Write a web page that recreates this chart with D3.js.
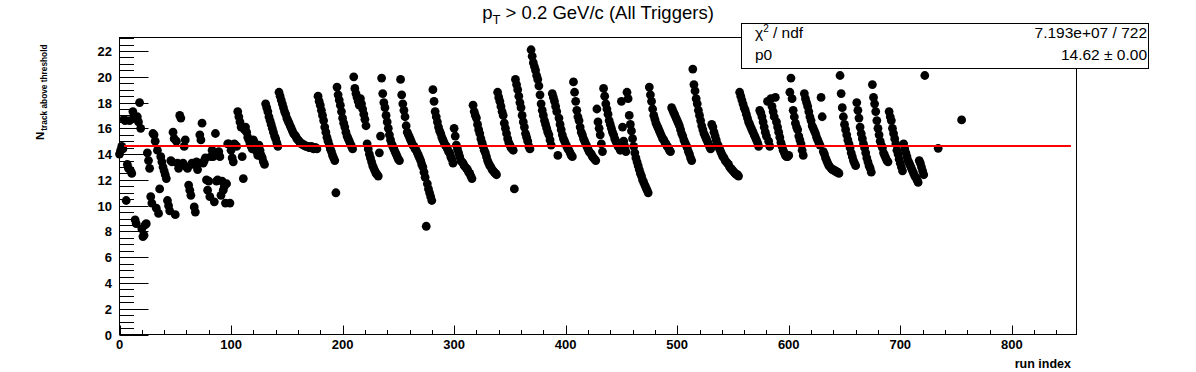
<!DOCTYPE html>
<html>
<head>
<meta charset="utf-8">
<script src="https://cdn.jsdelivr.net/npm/d3@7"></script>
<style>
  html, body { margin: 0; padding: 0; background: #fff; }
  svg { display: block; font-family: "Liberation Sans", Arial, Helvetica, sans-serif; }
</style>
</head>
<body>
<svg id="chart" width="1196" height="372"></svg>
<script>
// ---- data ----
const nTrack = [
  14.0, 14.3, 14.6, 14.4, 16.7, 16.6, 10.4, 13.2, 12.9, 16.6,
  12.7, 12.5, 17.3, 16.8, 8.9, 8.6, 16.9, 16.5, 18.0, 16.0,
  8.2, 7.6, 7.7, 8.5, 8.6, 14.1, 13.5, 12.9, 10.7, 10.2,
  15.6, 15.5, 15.0, 9.8, 14.3, 9.4, 11.3, 13.8, 13.4, 13.0,
  12.7, 12.4, 12.1, 10.4, 10.0, 9.6, 13.5, 13.4, 15.7, 15.2,
  9.3, 15.0, 13.3, 12.9, 17.0, 16.8, 13.2, 13.3, 14.6, 15.1,
  13.0, 12.9, 11.6, 11.2, 10.8, 13.3, 13.2, 9.9, 9.5, 13.4,
  12.8, 13.3, 15.5, 15.1, 16.4, 13.3, 13.5, 13.7, 12.0, 11.2,
  11.9, 10.7, 13.8, 14.3, 13.8, 10.3, 15.6, 11.9, 12.0, 14.2,
  13.8, 10.8, 11.9, 11.2, 11.5, 10.2, 11.7, 14.8, 14.8, 10.2,
  14.3, 13.7, 13.4, 14.8, 14.7, 14.6, 17.3, 16.9, 16.5, 16.1,
  13.8, 12.1, 15.9, 16.1, 15.7, 15.3, 15.1, 14.8, 14.6, 14.4,
  15.1, 14.9, 14.5, 14.2, 13.9, 14.7, 14.3, 13.9, 13.7, 13.4,
  13.2, 17.9, 17.6, 17.3, 16.9, 16.6, 16.3, 16.0, 15.7, 15.4,
  15.2, 14.9, 14.6, 18.8, 18.5, 18.2, 17.9, 17.6, 17.3, 17.1,
  16.8, 16.6, 16.4, 16.2, 16.0, 15.8, 15.6, 15.5, 15.4, 15.2,
  15.1, 15.0, 14.9, 14.8, 14.8, 14.7, 14.7, 14.6, 14.6, 14.6,
  14.5, 14.5, 14.6, 14.5, 14.4, 14.5, 14.5, 14.4, 18.5, 18.1,
  17.8, 17.4, 17.0, 16.6, 16.1, 15.7, 15.3, 15.0, 14.7, 14.4,
  14.2, 13.9, 13.7, 13.5, 11.0, 19.2, 18.6, 18.2, 17.8, 17.3,
  16.8, 16.4, 16.1, 15.7, 15.4, 15.2, 15.0, 14.8, 14.6, 14.4,
  20.0, 19.1, 18.7, 18.4, 18.1, 17.8, 18.3, 17.9, 17.5, 17.1,
  16.7, 16.2, 14.8, 14.4, 14.0, 13.7, 13.4, 13.1, 12.9, 12.7,
  12.5, 12.4, 12.3, 14.1, 15.4, 19.9, 18.7, 18.0, 17.6, 17.0,
  16.5, 16.0, 15.5, 15.1, 14.8, 14.6, 14.4, 14.2, 14.0, 13.8,
  13.6, 13.5, 19.8, 18.6, 17.9, 17.4, 16.9, 16.2, 15.7, 15.5,
  15.3, 15.1, 14.9, 14.7, 14.6, 14.4, 14.3, 14.1, 13.9, 13.7,
  13.5, 13.2, 13.0, 12.6, 12.2, 8.4, 11.7, 11.3, 11.0, 10.7,
  10.4, 19.0, 18.1, 17.3, 16.9, 16.5, 16.1, 15.8, 15.6, 15.3,
  15.1, 14.9, 14.7, 14.6, 14.4, 14.2, 14.1, 13.8, 13.6, 13.3,
  16.0, 15.4, 14.7, 14.4, 14.1, 13.8, 13.5, 13.4, 13.3, 13.1,
  13.0, 12.9, 12.8, 12.6, 12.5, 12.3, 12.1, 17.8, 17.3, 17.0,
  16.8, 16.3, 15.9, 15.6, 15.2, 14.9, 14.6, 14.3, 14.1, 13.8,
  13.5, 13.3, 13.1, 13.0, 12.8, 12.7, 12.6, 12.5, 12.4, 18.8,
  18.4, 18.1, 17.7, 17.3, 17.0, 16.4, 16.0, 15.6, 15.2, 14.9,
  14.7, 14.5, 14.4, 14.3, 11.3, 19.8, 19.4, 19.0, 18.5, 18.0,
  17.6, 17.0, 16.5, 16.1, 15.6, 15.3, 15.0, 14.6, 14.4, 22.1,
  21.6, 21.1, 20.8, 20.5, 20.1, 19.8, 19.3, 18.6, 17.9, 17.4,
  17.0, 16.6, 16.3, 16.0, 15.7, 15.5, 15.1, 14.7, 18.7, 18.4,
  18.1, 17.7, 17.3, 13.9, 16.8, 16.3, 15.9, 15.5, 15.2, 15.0,
  14.8, 14.6, 14.4, 14.3, 14.1, 13.9, 13.8, 19.6, 18.8, 18.1,
  17.4, 16.9, 16.6, 16.1, 15.7, 15.5, 15.2, 15.0, 14.8, 14.6,
  14.4, 14.2, 14.1, 14.0, 13.8, 13.7, 13.6, 13.5, 17.5, 16.5,
  16.0, 15.5, 14.8, 14.2, 19.1, 18.5, 17.9, 17.5, 17.1, 16.6,
  16.3, 16.0, 15.7, 15.5, 15.2, 15.0, 14.8, 14.6, 14.5, 14.3,
  18.1, 16.1, 15.0, 14.6, 14.2, 18.8, 18.3, 17.0, 16.3, 15.8,
  15.2, 14.6, 14.1, 13.7, 13.4, 13.1, 12.8, 12.5, 12.3, 12.0,
  11.8, 11.6, 11.4, 11.2, 11.0, 19.2, 18.6, 18.1, 17.5, 17.0,
  16.7, 16.4, 16.2, 16.0, 15.8, 15.6, 15.4, 15.2, 15.1, 14.9,
  14.8, 14.6, 14.5, 14.3, 14.2, 17.6, 17.4, 17.2, 17.0, 16.8,
  16.6, 16.4, 16.2, 15.9, 15.6, 15.4, 15.1, 14.9, 14.7, 14.5,
  14.2, 14.0, 13.7, 13.5, 20.6, 19.4, 18.9, 18.3, 17.9, 17.4,
  17.0, 16.6, 16.2, 15.9, 15.6, 15.4, 15.2, 15.0, 14.8, 14.6,
  14.4, 16.3, 16.1, 15.7, 15.4, 15.1, 14.8, 14.6, 14.4, 14.2,
  14.0, 13.8, 13.7, 13.5, 13.4, 13.3, 13.2, 13.0, 12.9, 12.8,
  12.7, 12.6, 12.5, 12.4, 12.4, 12.3, 18.8, 18.5, 18.2, 17.9,
  17.6, 17.4, 17.1, 16.8, 16.5, 16.3, 16.1, 15.9, 15.7, 15.5,
  15.3, 15.1, 14.9, 14.6, 17.4, 17.2, 16.9, 16.5, 16.1, 15.7,
  15.4, 18.1, 15.0, 14.6, 18.3, 17.7, 17.3, 16.9, 18.4, 16.5,
  16.1, 15.7, 15.3, 14.9, 14.6, 14.3, 14.1, 13.9, 13.8, 13.8,
  13.9, 18.8, 19.9, 18.3, 17.4, 16.9, 16.4, 16.1, 15.9, 15.4,
  15.1, 14.8, 14.3, 13.9, 18.7, 18.3, 18.0, 17.7, 17.3, 16.9,
  16.6, 16.2, 16.0, 15.8, 15.6, 15.3, 15.1, 14.9, 14.7, 18.4,
  16.9, 14.2, 14.0, 13.7, 13.5, 13.3, 13.1, 13.0, 12.9, 12.8,
  12.8, 12.7, 12.7, 12.6, 12.6, 12.5, 20.1, 18.7, 17.6, 16.9,
  16.3, 15.9, 15.5, 15.1, 14.8, 14.5, 14.1, 13.8, 13.5, 13.3,
  13.1, 18.0, 17.4, 16.8, 16.1, 15.6, 15.2, 14.8, 14.5, 14.1,
  13.7, 13.4, 13.1, 12.9, 12.6, 19.4, 18.4, 17.9, 17.3, 16.6,
  16.0, 15.5, 15.0, 14.7, 14.5, 14.1, 13.9, 13.7, 13.5, 13.4,
  17.3, 16.9, 16.6, 16.0, 15.6, 15.2, 14.8, 14.3, 14.0, 13.6,
  13.3, 13.0, 12.7, 14.8, 14.4, 14.1, 13.8, 13.5, 13.3, 13.1,
  12.9, 12.7, 12.5, 12.3, 12.2, 12.0, 11.8, 13.5, 13.3, 13.0,
  12.7, 12.4, 20.1
];
// runs that are not part of the contiguous 0..722 block
const extraRuns   = [734, 755];
const extraValues = [14.45, 16.65];

const fitP0 = 14.62;
const fitRange = [4, 853];
const xTicks = [0, 100, 200, 300, 400, 500, 600, 700, 800];
const yTicks = [0, 2, 4, 6, 8, 10, 12, 14, 16, 18, 20, 22];
const statsValues = ["7.193e+07 / 722", "14.62 \u00b1 0.00"];

// ---- layout ----
const svg = d3.select("#chart");
const L = 119.5, R = 1076.5, T = 37.5, B = 334.5;
const x = d3.scaleLinear().domain([0, 858]).range([L, R]);
const y = d3.scaleLinear().domain([0, 23.05]).range([B, T]);

const points = nTrack.map((v, i) => ({ run: i, v }))
  .concat(extraRuns.map((r, i) => ({ run: r, v: extraValues[i] })));

// frame
svg.append("rect").attr("x", L).attr("y", T).attr("width", R - L).attr("height", B - T)
  .attr("fill", "none").attr("stroke", "#000").attr("stroke-width", 1);

// y axis ticks (inside, to the right)
const yMinor = d3.range(0, 23.01, 0.5);
svg.append("g").selectAll("line").data(yMinor).join("line")
  .attr("x1", L).attr("x2", d => L + (d % 2 === 0 ? 29 : 14.5))
  .attr("y1", d => Math.round(y(d)) + 0.5).attr("y2", d => Math.round(y(d)) + 0.5)
  .attr("stroke", "#000").attr("stroke-width", 1);
svg.append("g").selectAll("text").data(yTicks).join("text")
  .attr("x", 112).attr("y", d => y(d) + 5)
  .attr("text-anchor", "end").attr("font-weight", "bold").attr("font-size", 13)
  .text(d => d);

// x axis ticks (inside, upward)
const xMinor = d3.range(0, 841, 20);
svg.append("g").selectAll("line").data(xMinor).join("line")
  .attr("x1", d => Math.round(x(d)) + 0.5).attr("x2", d => Math.round(x(d)) + 0.5)
  .attr("y1", B).attr("y2", d => B - (d % 100 === 0 ? 9 : 4.5))
  .attr("stroke", "#000").attr("stroke-width", 1);
svg.append("g").selectAll("text").data(xTicks).join("text")
  .attr("x", d => x(d)).attr("y", 349)
  .attr("text-anchor", "middle").attr("font-weight", "bold").attr("font-size", 13)
  .text(d => d);

// axis titles
svg.append("text").attr("x", 1071).attr("y", 368).attr("text-anchor", "end")
  .attr("font-weight", "bold").attr("font-size", 12.5).text("run index");
const yt = svg.append("text").attr("transform", "translate(44,140) rotate(-90)")
  .attr("font-weight", "bold");
yt.append("tspan").attr("font-size", 11.5).text("N");
yt.append("tspan").attr("font-size", 8.3).attr("dy", 3).attr("dx", 1).text("track above threshold");

// markers
svg.append("g").selectAll("circle").data(points).join("circle")
  .attr("cx", d => x(d.run)).attr("cy", d => y(d.v)).attr("r", 4.4)
  .attr("fill", "#000");

// fit line
svg.append("line").attr("x1", x(fitRange[0])).attr("x2", x(fitRange[1]))
  .attr("y1", y(fitP0)).attr("y2", y(fitP0))
  .attr("stroke", "#ff0000").attr("stroke-width", 2);

// title
const title = svg.append("text").attr("x", 598).attr("y", 19).attr("text-anchor", "middle")
  .attr("font-size", 18.5);
title.append("tspan").text("p");
title.append("tspan").attr("font-size", 13).attr("dy", 5).text("T");
title.append("tspan").attr("dy", -5).text(" > 0.2 GeV/c (All Triggers)");

// stats box
svg.append("rect").attr("x", 741.5).attr("y", 23.5).attr("width", 407).attr("height", 45)
  .attr("fill", "#fff").attr("stroke", "#000").attr("stroke-width", 1);
const s1 = svg.append("text").attr("x", 755).attr("y", 38).attr("font-size", 15.5);
s1.append("tspan").text("\u03c7");
s1.append("tspan").attr("font-size", 10).attr("dy", -6).text("2");
s1.append("tspan").attr("dy", 6).text(" / ndf");
svg.append("text").attr("x", 1147).attr("y", 38).attr("text-anchor", "end")
  .attr("font-size", 15.5).text(statsValues[0]);
svg.append("text").attr("x", 755).attr("y", 60).attr("font-size", 15.5).text("p0");
svg.append("text").attr("x", 1147).attr("y", 60).attr("text-anchor", "end")
  .attr("font-size", 15.5).text(statsValues[1]);
</script>
</body>
</html>
